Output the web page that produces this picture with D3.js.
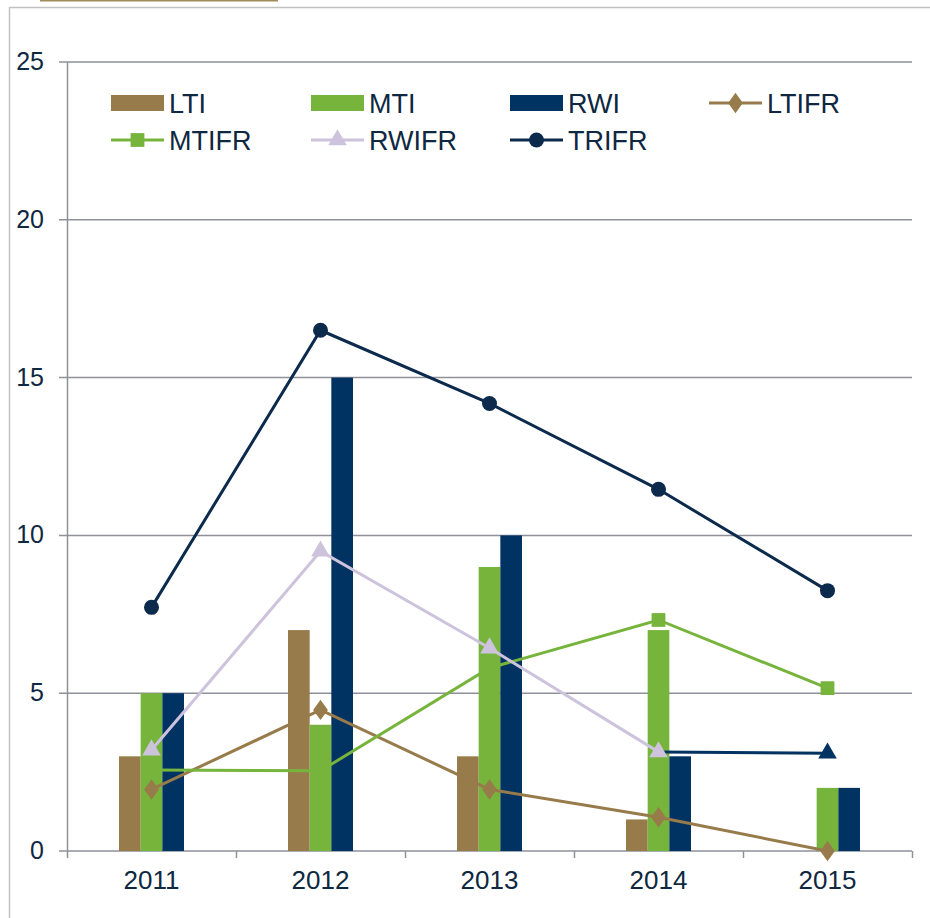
<!DOCTYPE html>
<html>
<head>
<meta charset="utf-8">
<script src="https://cdn.jsdelivr.net/npm/d3@7"></script>
<style>
  body { margin: 0; background: #fff; }
  svg { display: block; font-family: "Liberation Sans", Arial, sans-serif; }
</style>
</head>
<body>
<script>
// chart data
var years = ["2011", "2012", "2013", "2014", "2015"];
var barSeries = ["LTI", "MTI", "RWI"];
var LTI = [3, 7, 3, 1, 0];
var MTI = [5, 4, 9, 7, 2];
var RWI = [5, 15, 10, 3, 2];
var LTIFR = [1.95, 4.47, 1.95, 1.07, 0];
var MTIFR = [2.57, 2.54, 5.8, 7.32, 5.16];
var RWIFR = [3.2, 9.5, 6.43, 3.14, 3.1];
var TRIFR = [7.72, 16.5, 14.18, 11.46, 8.25];
var yTicks = [0, 5, 10, 15, 20, 25];

var W = 930, H = 918;
var textCol = "#0e2841";
var gridCol = "#8e909a";

var svg = d3.select("body").append("svg")
    .attr("width", W)
    .attr("height", H);

// frame bits
svg.append("line")
    .attr("x1", 40).attr("x2", 278).attr("y1", 0.5).attr("y2", 0.5)
    .attr("stroke", "#a38c5c").attr("stroke-width", 2);
svg.append("line")
    .attr("x1", 9).attr("x2", W).attr("y1", 7.5).attr("y2", 7.5)
    .attr("stroke", "#c2c2c2").attr("stroke-width", 1.5);
svg.append("line")
    .attr("x1", 9.5).attr("x2", 9.5).attr("y1", 7).attr("y2", H)
    .attr("stroke", "#c2c2c2").attr("stroke-width", 1.5);

var x = d3.scaleBand().domain(years).range([67, 912]).padding(0);
var y = d3.scaleLinear().domain([0, 25]).range([851, 62]);
var groupW = x.bandwidth() / 2.6;
var xb = d3.scaleBand().domain(barSeries).range([-groupW / 2, groupW / 2]).padding(0);

// gridlines + left ticks
svg.append("g")
    .selectAll("line")
    .data(yTicks)
    .enter()
    .append("line")
    .attr("x1", 59).attr("x2", 912)
    .attr("y1", function (d) { return y(d); })
    .attr("y2", function (d) { return y(d); })
    .attr("stroke", gridCol).attr("stroke-width", 1.5);

// y axis line
svg.append("line")
    .attr("x1", 67.5).attr("x2", 67.5).attr("y1", y(25)).attr("y2", y(0))
    .attr("stroke", gridCol).attr("stroke-width", 1.5);

// y tick labels
svg.append("g")
    .selectAll("text")
    .data(yTicks)
    .enter()
    .append("text")
    .attr("x", 44)
    .attr("y", function (d) { return y(d) - 1; })
    .attr("dy", "0.36em")
    .attr("text-anchor", "end")
    .attr("fill", textCol)
    .style("font-size", "25px")
    .text(function (d) { return d; });

// x axis via d3 axis
var xAxis = svg.append("g")
    .attr("transform", "translate(0," + y(0) + ")")
    .call(d3.axisBottom(x).tickSize(0).tickPadding(20));
xAxis.select(".domain").remove();
xAxis.selectAll("text")
    .attr("fill", textCol)
    .style("font-size", "26px")
    .style("font-family", "Liberation Sans, Arial, sans-serif");

// boundary tick marks below the x axis
var bounds = years.map(function (d) { return x(d); }).concat([x.range()[1]]);
svg.append("g")
    .selectAll("line")
    .data(bounds)
    .enter()
    .append("line")
    .attr("x1", function (d) { return d + 0.5; })
    .attr("x2", function (d) { return d + 0.5; })
    .attr("y1", y(0)).attr("y2", y(0) + 7)
    .attr("stroke", gridCol).attr("stroke-width", 1.5);

// bars
var barColors = { LTI: "#977b4b", MTI: "#77b43c", RWI: "#003262" };
var barData = { LTI: LTI, MTI: MTI, RWI: RWI };
barSeries.forEach(function (s) {
    svg.append("g")
        .selectAll("rect")
        .data(barData[s])
        .enter()
        .append("rect")
        .attr("x", function (d, i) { return x(years[i]) + x.bandwidth() / 2 + xb(s); })
        .attr("width", xb.bandwidth())
        .attr("y", function (d) { return y(d); })
        .attr("height", function (d) { return y(0) - y(d); })
        .attr("fill", barColors[s]);
});

var cx = function (i) { return x(years[i]) + x.bandwidth() / 2; };
var line = d3.line()
    .x(function (d, i) { return cx(i); })
    .y(function (d) { return y(d); });

function drawMarker(g, type, px, py, col) {
    if (type === "circle") {
        g.append("circle").attr("cx", px).attr("cy", py).attr("r", 7.5).attr("fill", col);
    } else {
        var sym = type === "diamond" ? d3.symbolDiamond : type === "square" ? d3.symbolSquare : d3.symbolTriangle;
        var size = type === "diamond" ? 120 : type === "square" ? 190 : 150;
        g.append("path")
            .attr("d", d3.symbol().type(sym).size(size)())
            .attr("transform", "translate(" + px + "," + py + ")" + (type === "diamond" ? " scale(1.25,1)" : ""))
            .attr("fill", col);
    }
}

var lineSeries = [
    { name: "LTIFR", values: LTIFR, color: "#977b4b", marker: "diamond" },
    { name: "MTIFR", values: MTIFR, color: "#77b43c", marker: "square" },
    { name: "RWIFR", values: RWIFR, color: "#cdc3dc", marker: "triangle" },
    { name: "TRIFR", values: TRIFR, color: "#0c2a4c", marker: "circle" }
];

lineSeries.forEach(function (s) {
    var g = svg.append("g");
    if (s.name === "RWIFR") {
        // last segment and last point are navy in the original
        g.append("path").attr("d", line(s.values.slice(0, 4)))
            .attr("fill", "none").attr("stroke", s.color).attr("stroke-width", 3);
        g.append("line")
            .attr("x1", cx(3)).attr("y1", y(s.values[3]))
            .attr("x2", cx(4)).attr("y2", y(s.values[4]))
            .attr("stroke", "#003262").attr("stroke-width", 3);
    } else {
        g.append("path").attr("d", line(s.values))
            .attr("fill", "none").attr("stroke", s.color).attr("stroke-width", 3);
    }
    s.values.forEach(function (v, i) {
        var col = (s.name === "RWIFR" && i === 4) ? "#003262" : s.color;
        drawMarker(g, s.marker, cx(i), y(v), col);
    });
});

// legend
var legendItems = [
    { name: "LTI", type: "bar", color: "#977b4b", x: 111, y: 103 },
    { name: "MTI", type: "bar", color: "#77b43c", x: 311, y: 103 },
    { name: "RWI", type: "bar", color: "#003262", x: 510, y: 103 },
    { name: "LTIFR", type: "line", marker: "diamond", color: "#977b4b", x: 709, y: 103 },
    { name: "MTIFR", type: "line", marker: "square", color: "#77b43c", x: 111, y: 140 },
    { name: "RWIFR", type: "line", marker: "triangle", color: "#cdc3dc", x: 311, y: 140 },
    { name: "TRIFR", type: "line", marker: "circle", color: "#0c2a4c", x: 510, y: 140 }
];
var lg = svg.append("g");
legendItems.forEach(function (it) {
    if (it.type === "bar") {
        lg.append("rect").attr("x", it.x).attr("y", it.y - 8).attr("width", 53).attr("height", 16)
            .attr("fill", it.color);
    } else {
        lg.append("line").attr("x1", it.x).attr("x2", it.x + 53).attr("y1", it.y).attr("y2", it.y)
            .attr("stroke", it.color).attr("stroke-width", 3);
        drawMarker(lg, it.marker, it.x + 26.5, it.y, it.color);
    }
    lg.append("text")
        .attr("x", it.x + 58)
        .attr("y", it.y)
        .attr("dy", "0.36em")
        .attr("fill", textCol)
        .style("font-size", "27px")
        .text(it.name);
});
</script>
</body>
</html>
